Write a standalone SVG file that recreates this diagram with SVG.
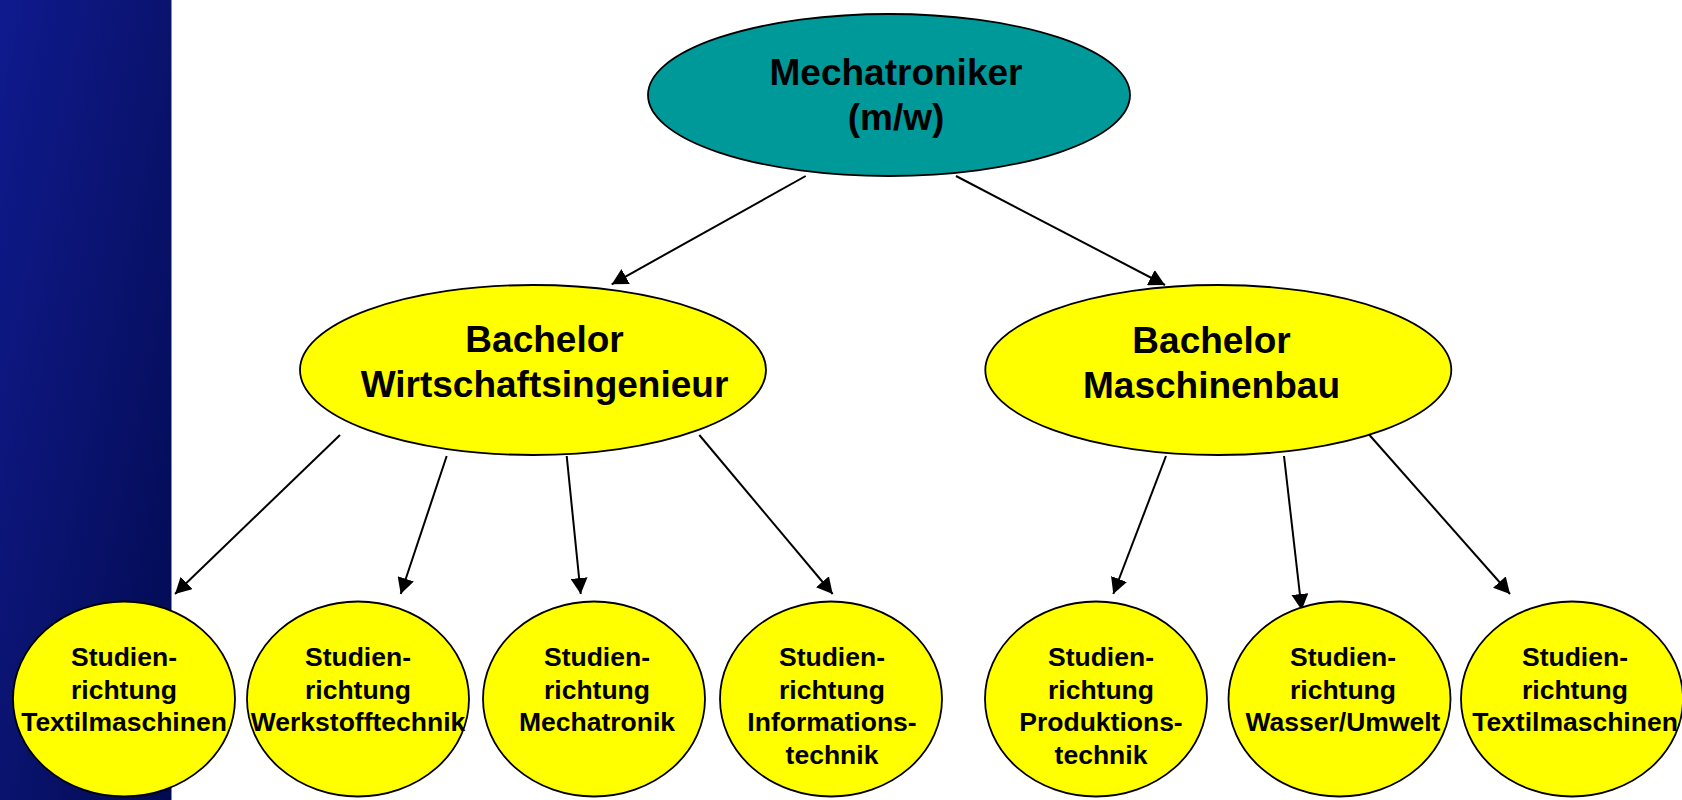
<svg xmlns="http://www.w3.org/2000/svg" width="1682" height="800" viewBox="0 0 1682 800">
<style>
.n{stroke:#000;stroke-width:1.8}
.top{fill:#009999}
.yel{fill:#ffff00}
.t{font-family:"Liberation Sans",Arial,sans-serif;font-weight:bold;fill:#000;text-anchor:middle}
.big{font-size:37px}
.sm{font-size:26.5px}
.c line{stroke:#000;stroke-width:2;marker-end:url(#ah)}
</style>
<defs>
<linearGradient id="bg" x1="0" y1="0" x2="1" y2="1">
<stop offset="0" stop-color="#0f1a8e"/>
<stop offset="0.5" stop-color="#0a136e"/>
<stop offset="1" stop-color="#000a50"/>
</linearGradient>
<marker id="ah" markerWidth="17" markerHeight="17" refX="16" refY="8.5" orient="auto" markerUnits="userSpaceOnUse">
<path d="M0,0 L16,8.5 L0,17 Z" fill="#000"/>
</marker>
</defs>
<rect x="0" y="0" width="1682" height="800" fill="#fff"/>
<rect x="0" y="0" width="171.5" height="800" fill="url(#bg)"/>
<g id="connectors" class="c">
<line x1="805.7" y1="176" x2="611.7" y2="284.3"/>
<line x1="956" y1="176" x2="1165" y2="285"/>
<line x1="340" y1="435" x2="175" y2="594"/>
<line x1="446.7" y1="456" x2="400.7" y2="594"/>
<line x1="566.7" y1="456" x2="580.7" y2="594"/>
<line x1="699.3" y1="435" x2="832.7" y2="594"/>
<line x1="1166" y1="456" x2="1113.3" y2="594"/>
<line x1="1284" y1="456" x2="1301.7" y2="610"/>
<line x1="1369" y1="434.5" x2="1510" y2="594"/>
</g>
<g id="mechatroniker">
<ellipse class="n top" cx="889" cy="95" rx="241" ry="81"/>
<text class="t big" x="896" y="84.5">Mechatroniker</text>
<text class="t big" x="896" y="129.5">(m/w)</text>
</g>
<g id="bachelor-wi">
<ellipse class="n yel" cx="533" cy="370" rx="233" ry="85"/>
<text class="t big" x="544.5" y="351.7">Bachelor</text>
<text class="t big" x="544.5" y="396.7">Wirtschaftsingenieur</text>
</g>
<g id="bachelor-mb">
<ellipse class="n yel" cx="1218.3" cy="370" rx="233" ry="85"/>
<text class="t big" x="1211.5" y="353">Bachelor</text>
<text class="t big" x="1211.5" y="398">Maschinenbau</text>
</g>
<g id="sr-textil-wi">
<ellipse class="n yel" cx="124" cy="699" rx="111" ry="97.5"/>
<text class="t sm" x="124" y="666">Studien-</text>
<text class="t sm" x="124" y="698.5">richtung</text>
<text class="t sm" x="124" y="731">Textilmaschinen</text>
</g>
<g id="sr-werkstoff">
<ellipse class="n yel" cx="358" cy="699" rx="111" ry="97.5"/>
<text class="t sm" x="358" y="666">Studien-</text>
<text class="t sm" x="358" y="698.5">richtung</text>
<text class="t sm" x="358" y="731">Werkstofftechnik</text>
</g>
<g id="sr-mechatronik">
<ellipse class="n yel" cx="594" cy="699" rx="111" ry="97.5"/>
<text class="t sm" x="597" y="666">Studien-</text>
<text class="t sm" x="597" y="698.5">richtung</text>
<text class="t sm" x="597" y="731">Mechatronik</text>
</g>
<g id="sr-information">
<ellipse class="n yel" cx="831" cy="699" rx="111" ry="97.5"/>
<text class="t sm" x="832" y="666">Studien-</text>
<text class="t sm" x="832" y="698.5">richtung</text>
<text class="t sm" x="832" y="731">Informations-</text>
<text class="t sm" x="832" y="763.5">technik</text>
</g>
<g id="sr-produktion">
<ellipse class="n yel" cx="1096" cy="699" rx="111" ry="97.5"/>
<text class="t sm" x="1101" y="666">Studien-</text>
<text class="t sm" x="1101" y="698.5">richtung</text>
<text class="t sm" x="1101" y="731">Produktions-</text>
<text class="t sm" x="1101" y="763.5">technik</text>
</g>
<g id="sr-wasser">
<ellipse class="n yel" cx="1339.5" cy="699" rx="111" ry="97.5"/>
<text class="t sm" x="1343" y="666">Studien-</text>
<text class="t sm" x="1343" y="698.5">richtung</text>
<text class="t sm" x="1343" y="731">Wasser/Umwelt</text>
</g>
<g id="sr-textil-mb">
<ellipse class="n yel" cx="1572" cy="699" rx="111" ry="97.5"/>
<text class="t sm" x="1575" y="666">Studien-</text>
<text class="t sm" x="1575" y="698.5">richtung</text>
<text class="t sm" x="1575" y="731">Textilmaschinen</text>
</g>
</svg>
